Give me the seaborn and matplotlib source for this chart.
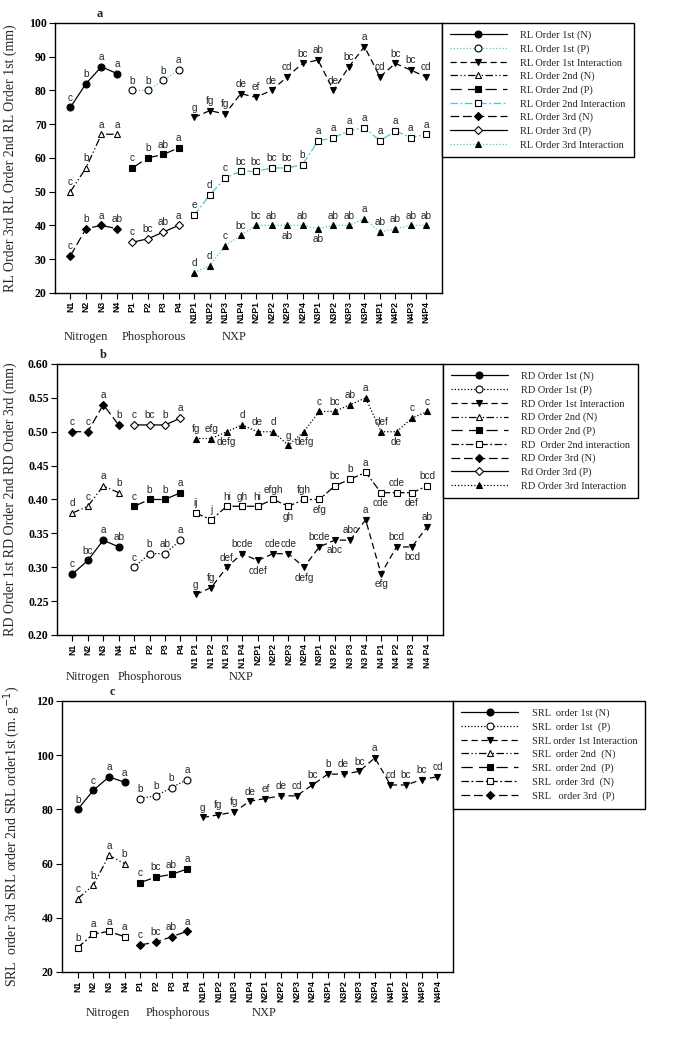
import matplotlib.pyplot as plt
import matplotlib.transforms as mtransforms
import seaborn as sns

sns.set_theme(style="ticks")
plt.rcParams.update({"font.family": ["Liberation Serif", "DejaVu Serif"], "axes.edgecolor": "black",
                     "axes.linewidth": 1.0, "xtick.color": "black", "ytick.color": "black"})

CYAN = "#4cc6d6"
SOLID, DOT, DASH = "-", (0, (1, 1.6)), (0, (5, 3))
DDD, LDASH, DASHDOT, LDASH2 = (0, (6, 2, 1, 2, 1, 2)), (0, (9, 5)), (0, (6, 2, 1.5, 2)), (0, (7, 3))

# categories
N_CATS = ["N1", "N2", "N3", "N4"]
P_CATS = ["P1", "P2", "P3", "P4"]
NP_CATS = ["N1P1", "N1P2", "N1P3", "N1P4", "N2P1", "N2P2", "N2P3", "N2P4",
           "N3P1", "N3P2", "N3P3", "N3P4", "N4P1", "N4P2", "N4P3", "N4P4"]
ALL_CATS = N_CATS + P_CATS + NP_CATS
TICKS_A = ALL_CATS
TICKS_B = N_CATS + P_CATS + ["N1 P1", "N1 P2", "N1 P3", "N1 P4", "N2P1", "N2P2", "N2P3", "N2P4",
                             "N3P1", "N3 P2", "N3 P3", "N3 P4", "N4 P1", "N4 P2", "N4 P3", "N4 P4"]

# a) root length (mm)
rl1_n = [75, 82, 87, 85]
rl1_n_sig = ["c", "b", "a", "a"]
rl1_p = [80, 80, 83, 86]
rl1_p_sig = ["b", "b", "b", "a"]
rl1_np = [72, 74, 73, 79, 78, 80, 84, 88, 89, 80, 87, 93, 84, 88, 86, 84]
rl1_np_sig = ["g", "fg", "fg", "de", "ef", "de", "cd", "bc", "ab", "de", "bc", "a", "cd", "bc", "bc", "cd"]
rl2_n = [50, 57, 67, 67]
rl2_n_sig = ["c", "b", "a", "a"]
rl2_p = [57, 60, 61, 63]
rl2_p_sig = ["c", "b", "ab", "a"]
rl2_np = [43, 49, 54, 56, 56, 57, 57, 58, 65, 66, 68, 69, 65, 68, 66, 67]
rl2_np_sig = ["e", "d", "c", "bc", "bc", "bc", "bc", "b", "a", "a", "a", "a", "a", "a", "a", "a"]
rl3_n = [31, 39, 40, 39]
rl3_n_sig = ["c", "b", "a", "ab"]
rl3_p = [35, 36, 38, 40]
rl3_p_sig = ["c", "bc", "ab", "a"]
rl3_np = [26, 28, 34, 37, 40, 40, 40, 40, 39, 40, 40, 42, 38, 39, 40, 40]
rl3_np_sig = ["d", "d", "c", "bc", "bc", "ab", "ab", "ab", "ab", "ab", "ab", "a", "ab", "ab", "ab", "ab"]

# b) root diameter (mm)
rd1_n = [0.29, 0.31, 0.34, 0.33]
rd1_n_sig = ["c", "bc", "a", "ab"]
rd1_p = [0.30, 0.32, 0.32, 0.34]
rd1_p_sig = ["c", "b", "ab", "a"]
rd1_np = [0.26, 0.27, 0.30, 0.32, 0.31, 0.32, 0.32, 0.30, 0.33, 0.34, 0.34, 0.37, 0.29, 0.33, 0.33, 0.36]
rd1_np_sig = ["g", "fg", "def", "bcde", "cdef", "cde", "cde", "defg", "bcde", "abc", "abc", "a",
              "efg", "bcd", "bcd", "ab"]
rd2_n = [0.38, 0.39, 0.42, 0.41]
rd2_n_sig = ["d", "c", "a", "b"]
rd2_p = [0.39, 0.40, 0.40, 0.41]
rd2_p_sig = ["c", "b", "b", "a"]
rd2_np = [0.38, 0.37, 0.39, 0.39, 0.39, 0.40, 0.39, 0.40, 0.40, 0.42, 0.43, 0.44, 0.41, 0.41, 0.41, 0.42]
rd2_np_sig = ["ij", "j", "hi", "gh", "hi", "efgh", "gh", "fgh", "efg", "bc", "b", "a", "cde", "cde", "def", "bcd"]
rd3_n = [0.50, 0.50, 0.54, 0.51]
rd3_n_sig = ["c", "c", "a", "b"]
rd3_p = [0.51, 0.51, 0.51, 0.52]
rd3_p_sig = ["c", "bc", "b", "a"]
rd3_np = [0.49, 0.49, 0.50, 0.51, 0.50, 0.50, 0.48, 0.50, 0.53, 0.53, 0.54, 0.55, 0.50, 0.50, 0.52, 0.53]
rd3_np_sig = ["fg", "efg", "defg", "d", "de", "d", "g", "defg", "c", "bc", "ab", "a", "def", "de", "c", "c"]

# c) specific root length (m g-1)
srl1_n = [80, 87, 92, 90]
srl1_n_sig = ["b", "c", "a", "a"]
srl1_p = [84, 85, 88, 91]
srl1_p_sig = ["b", "b", "b", "a"]
srl1_np = [77, 78, 79, 83, 84, 85, 85, 89, 93, 93, 94, 99, 89, 89, 91, 92]
srl1_np_sig = ["g", "fg", "fg", "de", "ef", "de", "cd", "bc", "b", "de", "bc", "a", "cd", "bc", "bc", "cd"]
srl2_n = [47, 52, 63, 60]
srl2_n_sig = ["c", "b", "a", "b"]
srl2_p = [53, 55, 56, 58]
srl2_p_sig = ["c", "bc", "ab", "a"]
srl3_n = [29, 34, 35, 33]
srl3_n_sig = ["b", "a", "a", "a"]
srl3_p = [30, 31, 33, 35]
srl3_p_sig = ["c", "bc", "ab", "a"]


def st(marker, face, ls, color="black", below=()):
    return dict(marker=marker, face=face, ls=ls, color=color, below=below)


def draw(ax, label, cats, vals, sig, s):
    x = [ALL_CATS.index(c) for c in cats]
    sns.lineplot(x=x, y=vals, ax=ax, label=label, color=s["color"], linestyle=s["ls"], linewidth=0.9,
                 marker=s["marker"], markersize=5.0 if s["marker"] != "D" else 4.4,
                 markerfacecolor=s["face"], markeredgecolor="black", markeredgewidth=0.8, legend=False)
    for i, (xi, yi, t) in enumerate(zip(x, vals, sig)):
        down = i in s["below"]
        ax.annotate(t, (xi, yi), xytext=(0, -3.8 if down else 3.4), textcoords="offset points",
                    ha="center", va="top" if down else "bottom", fontsize=7.2, family="Liberation Sans")


def finish(ax, ticks, ylim, yticks, yfmt, ylabel, letter, letter_x, groups, group_y, label_x):
    ax.set_xlim(-1, 24)
    ax.set_ylim(*ylim)
    ax.set_xticks(range(len(ticks)))
    ax.set_xticklabels(ticks, rotation=90, fontsize=6.3, fontweight="bold", family="Liberation Sans")
    ax.set_yticks(yticks)
    ax.set_yticklabels([yfmt.format(v) for v in yticks], fontsize=8.5, fontweight="bold")
    ax.tick_params(direction="out", length=4, width=0.8, pad=2)
    ax.set_ylabel(ylabel, fontsize=10)
    ax.yaxis.set_label_coords(label_x, 0.5)
    for sp in ax.spines.values():
        sp.set_visible(True)
        sp.set_color("black")
    trans = mtransforms.blended_transform_factory(ax.transData, ax.transAxes)
    ax.text(letter_x, 1.012, letter, transform=trans, ha="center", va="bottom", fontsize=9, fontweight="bold")
    for name, gx in groups:
        ax.text(gx, group_y, name, transform=trans, ha="center", va="center", fontsize=9)
    leg = ax.legend(loc="upper left", bbox_to_anchor=(1.0, 1.0), borderaxespad=0, fancybox=False,
                    edgecolor="black", framealpha=1, fontsize=7.5, handlelength=5.5, handletextpad=1.3,
                    labelspacing=0.4, borderpad=0.75, numpoints=1)
    leg.get_frame().set_linewidth(1.0)


fig = plt.figure(figsize=(6.75, 10.42), dpi=100)

# panel a
ax1 = fig.add_axes([0.0815, 0.719, 0.573, 0.259])
series_a = [
    ("RL Order 1st (N)", N_CATS, rl1_n, rl1_n_sig, st("o", "black", SOLID)),
    ("RL Order 1st (P)", P_CATS, rl1_p, rl1_p_sig, st("o", "white", DOT, CYAN)),
    ("RL Order 1st Interaction", NP_CATS, rl1_np, rl1_np_sig, st("v", "black", DASH)),
    ("RL Order 2nd (N)", N_CATS, rl2_n, rl2_n_sig, st("^", "white", DDD)),
    ("RL Order 2nd (P)", P_CATS, rl2_p, rl2_p_sig, st("s", "black", LDASH)),
    ("RL Order 2nd Interaction", NP_CATS, rl2_np, rl2_np_sig, st("s", "white", DASHDOT, CYAN)),
    ("RL Order 3rd (N)", N_CATS, rl3_n, rl3_n_sig, st("D", "black", LDASH2)),
    ("RL Order 3rd (P)", P_CATS, rl3_p, rl3_p_sig, st("D", "white", SOLID)),
    ("RL Order 3rd Interaction", NP_CATS, rl3_np, rl3_np_sig, st("^", "black", DOT, CYAN, below=(6, 8))),
]
for label, cats, vals, sig, s in series_a:
    draw(ax1, label, cats, vals, sig, s)
finish(ax1, TICKS_A, (20, 100), list(range(20, 101, 10)), "{:d}",
       "RL Order 3rd RL Order 2nd RL Order 1st (mm)", "a", 1.9,
       [("Nitrogen", 1.0), ("Phosphorous", 5.4), ("NXP", 10.6)], -0.162, -0.098)

# panel b
ax2 = fig.add_axes([0.0844, 0.3906, 0.5716, 0.2601])
series_b = [
    ("RD Order 1st (N)", N_CATS, rd1_n, rd1_n_sig, st("o", "black", SOLID)),
    ("RD Order 1st (P)", P_CATS, rd1_p, rd1_p_sig, st("o", "white", DOT)),
    ("RD Order 1st Interaction", NP_CATS, rd1_np, rd1_np_sig, st("v", "black", DASH, below=(4, 7, 9, 12, 14))),
    ("RD Order 2nd (N)", N_CATS, rd2_n, rd2_n_sig, st("^", "white", DDD)),
    ("RD Order 2nd (P)", P_CATS, rd2_p, rd2_p_sig, st("s", "black", LDASH)),
    ("RD  Order 2nd interaction", NP_CATS, rd2_np, rd2_np_sig, st("s", "white", DASHDOT, below=(6, 8, 12, 14))),
    ("RD Order 3rd (N)", N_CATS, rd3_n, rd3_n_sig, st("D", "black", LDASH2)),
    ("Rd Order 3rd (P)", P_CATS, rd3_p, rd3_p_sig, st("D", "white", SOLID)),
    ("RD Order 3rd Interaction", NP_CATS, rd3_np, rd3_np_sig, st("^", "black", DOT, below=(2, 7, 13))),
]
for label, cats, vals, sig, s in series_b:
    draw(ax2, label, cats, vals, sig, s)
finish(ax2, TICKS_B, (0.20, 0.60), [0.20 + 0.05 * i for i in range(9)], "{:.2f}",
       "RD Order 1st RD Order 2nd RD Order 3rd (mm)", "b", 2.0,
       [("Nitrogen", 1.0), ("Phosphorous", 5.0), ("NXP", 10.9)], -0.155, -0.104)

# panel c
ax3 = fig.add_axes([0.0919, 0.0672, 0.5793, 0.2601])
series_c = [
    ("SRL  order 1st (N)", N_CATS, srl1_n, srl1_n_sig, st("o", "black", SOLID)),
    ("SRL  order 1st  (P)", P_CATS, srl1_p, srl1_p_sig, st("o", "white", DOT)),
    ("SRL order 1st Interaction", NP_CATS, srl1_np, srl1_np_sig, st("v", "black", DASH)),
    ("SRL  order 2nd  (N)", N_CATS, srl2_n, srl2_n_sig, st("^", "white", DDD)),
    ("SRL  order 2nd  (P)", P_CATS, srl2_p, srl2_p_sig, st("s", "black", LDASH)),
    ("SRL  order 3rd  (N)", N_CATS, srl3_n, srl3_n_sig, st("s", "white", DASHDOT)),
    ("SRL   order 3rd  (P)", P_CATS, srl3_p, srl3_p_sig, st("D", "black", LDASH2)),
]
for label, cats, vals, sig, s in series_c:
    draw(ax3, label, cats, vals, sig, s)
finish(ax3, TICKS_A, (20, 120), list(range(20, 121, 20)), "{:d}",
       "SRL  order 3rd SRL order 2nd SRL order1st (m. g$^{-1}$)", "c", 2.2,
       [("Nitrogen", 1.9), ("Phosphorous", 6.4), ("NXP", 11.9)], -0.151, -0.102)

fig.savefig("out.png", dpi=100, facecolor="white")
plt.close(fig)
